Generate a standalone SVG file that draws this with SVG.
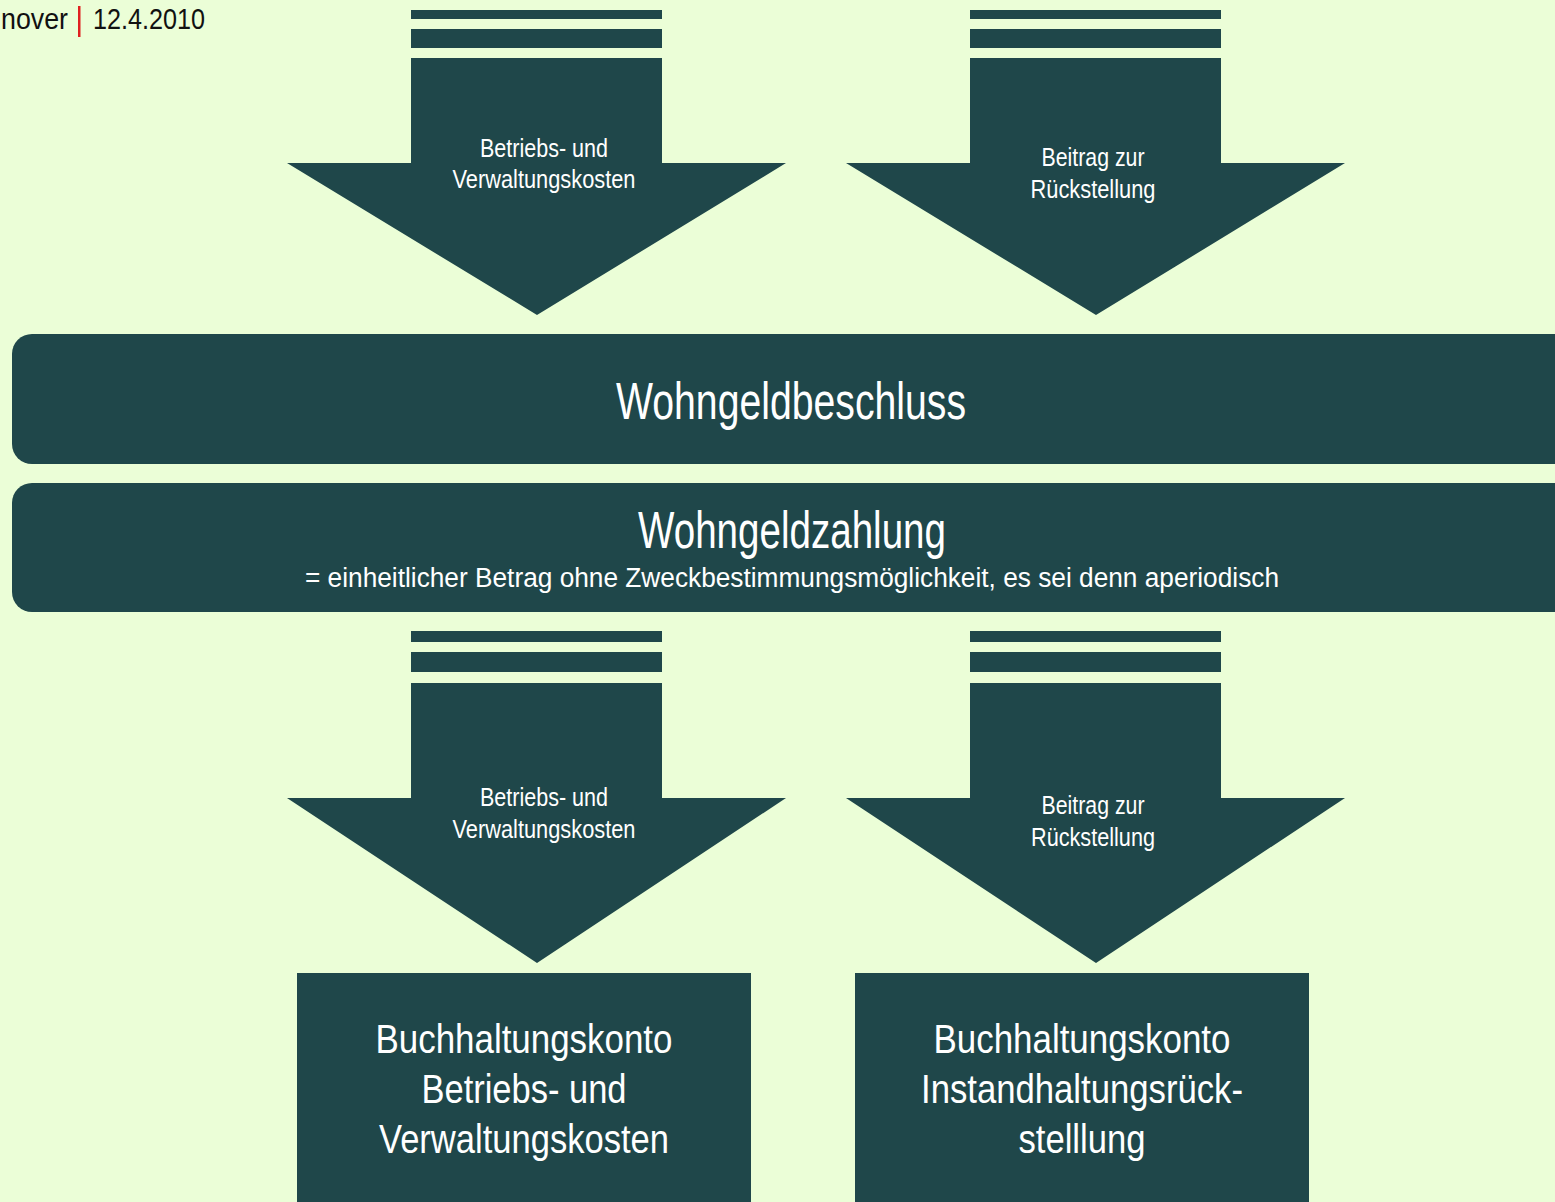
<svg xmlns="http://www.w3.org/2000/svg" width="1555" height="1202" viewBox="0 0 1555 1202">
  <style>
    .bg { fill: #EBFED7; }
    .dk { fill: #1F474A; }
    .t { font-family: "Liberation Sans Narrow", "Liberation Sans", Arial, sans-serif; fill: #FFFFFF; text-anchor: middle; }
    .h { font-family: "Liberation Sans Narrow", "Liberation Sans", Arial, sans-serif; fill: #111111; font-size: 30px; }
    .s { font-size: 26px; }
    .sub { font-size: 27px; }
    .m { font-size: 52px; }
    .b { font-size: 40px; }
  </style>
  <rect class="bg" x="0" y="0" width="1555" height="1202"/>

  <g id="header">
    <text class="h" x="1" y="29" textLength="67" lengthAdjust="spacingAndGlyphs">nover</text>
    <rect x="78" y="6" width="2.5" height="31" fill="#E02020"/>
    <text class="h" x="93" y="29" textLength="112" lengthAdjust="spacingAndGlyphs">12.4.2010</text>
  </g>

  <g id="connectors">
    <g id="arrow-top-left">
      <rect class="dk" x="411" y="10" width="251" height="9"/>
      <rect class="dk" x="411" y="29" width="251" height="19"/>
      <polygon class="dk" points="411,58 662,58 662,163 786,163 537,315 287,163 411,163"/>
      <text class="t s" x="544" y="157" textLength="128" lengthAdjust="spacingAndGlyphs">Betriebs- und</text>
      <text class="t s" x="544" y="188" textLength="183" lengthAdjust="spacingAndGlyphs">Verwaltungskosten</text>
    </g>
    <g id="arrow-top-right">
      <rect class="dk" x="970" y="10" width="251" height="9"/>
      <rect class="dk" x="970" y="29" width="251" height="19"/>
      <polygon class="dk" points="970,58 1221,58 1221,163 1345,163 1096,315 846,163 970,163"/>
      <text class="t s" x="1093" y="166" textLength="103" lengthAdjust="spacingAndGlyphs">Beitrag zur</text>
      <text class="t s" x="1093" y="198" textLength="125" lengthAdjust="spacingAndGlyphs">Rückstellung</text>
    </g>
    <g id="arrow-bottom-left">
      <rect class="dk" x="411" y="631" width="251" height="11"/>
      <rect class="dk" x="411" y="652" width="251" height="20"/>
      <polygon class="dk" points="411,683 662,683 662,798 786,798 537,963 287,798 411,798"/>
      <text class="t s" x="544" y="806" textLength="128" lengthAdjust="spacingAndGlyphs">Betriebs- und</text>
      <text class="t s" x="544" y="838" textLength="183" lengthAdjust="spacingAndGlyphs">Verwaltungskosten</text>
    </g>
    <g id="arrow-bottom-right">
      <rect class="dk" x="970" y="631" width="251" height="11"/>
      <rect class="dk" x="970" y="652" width="251" height="20"/>
      <polygon class="dk" points="970,683 1221,683 1221,798 1345,798 1096,963 846,798 970,798"/>
      <text class="t s" x="1093" y="814" textLength="103" lengthAdjust="spacingAndGlyphs">Beitrag zur</text>
      <text class="t s" x="1093" y="846" textLength="124" lengthAdjust="spacingAndGlyphs">Rückstellung</text>
    </g>
  </g>

  <g id="wohngeldbeschluss">
    <rect class="dk" x="12" y="334" width="1580" height="130" rx="20" ry="20"/>
    <text class="t m" x="791" y="419" textLength="350" lengthAdjust="spacingAndGlyphs">Wohngeldbeschluss</text>
  </g>

  <g id="wohngeldzahlung">
    <rect class="dk" x="12" y="483" width="1580" height="129" rx="20" ry="20"/>
    <text class="t m" x="792" y="548" textLength="308" lengthAdjust="spacingAndGlyphs">Wohngeldzahlung</text>
    <text class="t sub" x="792" y="587" textLength="974" lengthAdjust="spacingAndGlyphs">= einheitlicher Betrag ohne Zweckbestimmungsmöglichkeit, es sei denn aperiodisch</text>
  </g>

  <g id="konto-betrieb">
    <rect class="dk" x="297" y="973" width="454" height="240"/>
    <text class="t b" x="524" y="1053" textLength="297" lengthAdjust="spacingAndGlyphs">Buchhaltungskonto</text>
    <text class="t b" x="524" y="1103" textLength="205" lengthAdjust="spacingAndGlyphs">Betriebs- und</text>
    <text class="t b" x="524" y="1153" textLength="290" lengthAdjust="spacingAndGlyphs">Verwaltungskosten</text>
  </g>

  <g id="konto-instandhaltung">
    <rect class="dk" x="855" y="973" width="454" height="240"/>
    <text class="t b" x="1082" y="1053" textLength="297" lengthAdjust="spacingAndGlyphs">Buchhaltungskonto</text>
    <text class="t b" x="1082" y="1103" textLength="322" lengthAdjust="spacingAndGlyphs">Instandhaltungsrück-</text>
    <text class="t b" x="1082" y="1153" textLength="127" lengthAdjust="spacingAndGlyphs">stelllung</text>
  </g>
</svg>
